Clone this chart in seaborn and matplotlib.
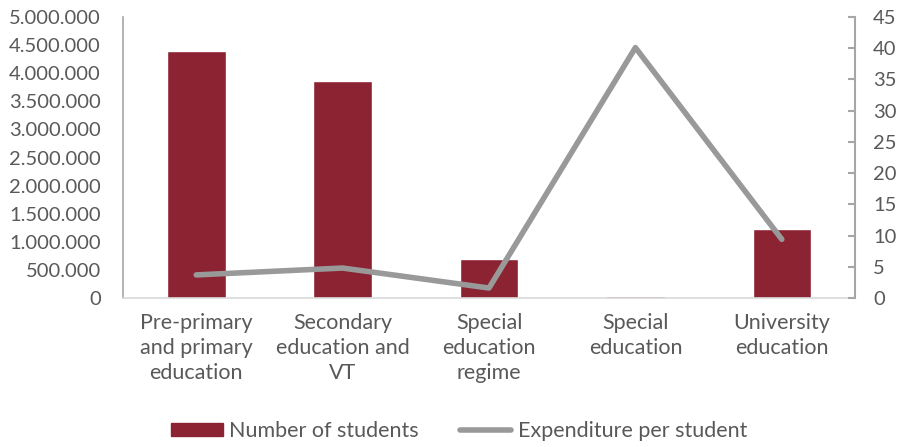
import numpy as np
import pandas as pd
import matplotlib
matplotlib.use("Agg")
import matplotlib.pyplot as plt
import seaborn as sns
from matplotlib.ticker import FuncFormatter, MultipleLocator
from matplotlib.patches import Patch
from matplotlib.lines import Line2D

categories = [
    "Pre-primary\nand primary\neducation",
    "Secondary\neducation and\nVT",
    "Special\neducation\nregime",
    "Special\neducation",
    "University\neducation",
]
students = [4395000, 3860000, 695000, 40000, 1228000]
expenditure = [3.7, 4.8, 1.6, 40.1, 9.4]

bar_color = "#8B2332"
line_color = "#999999"
text_color = "#595959"

sns.set_theme(style="white")
plt.rcParams["font.family"] = ["Lato", "DejaVu Sans"]

fig = plt.figure(figsize=(9, 4.47), dpi=100)
ax = fig.add_axes([0.1367, 0.3333, 0.8133, 0.6287])

df = pd.DataFrame({"category": categories, "students": students,
                   "expenditure": expenditure})
sns.barplot(data=df, x="category", y="students", color=bar_color,
            saturation=1, width=0.4, ax=ax)

ax2 = ax.twinx()
sns.lineplot(x=np.arange(len(categories)), y=expenditure, ax=ax2,
             color=line_color, linewidth=4)

ax.set_xlim(-0.5, len(categories) - 0.5)
ax.set_ylim(0, 5000000)
ax2.set_ylim(0, 45)
ax.yaxis.set_major_locator(MultipleLocator(500000))
ax2.yaxis.set_major_locator(MultipleLocator(5))
ax.yaxis.set_major_formatter(FuncFormatter(lambda v, p: f"{int(v):,}".replace(",", ".")))

ax.set_xlabel("")
ax.set_ylabel("")
ax2.set_ylabel("")

for a in (ax, ax2):
    for s in a.spines.values():
        s.set_visible(False)

ax.spines["left"].set_visible(True)
ax.spines["left"].set_color("#a6a6a6")
ax.spines["left"].set_linewidth(1.2)
ax.spines["bottom"].set_visible(True)
ax.spines["bottom"].set_color("#d9d9d9")
ax.spines["bottom"].set_linewidth(1.2)
ax2.spines["right"].set_visible(True)
ax2.spines["right"].set_color("#a6a6a6")
ax2.spines["right"].set_linewidth(1.5)

ax.tick_params(axis="y", length=0, labelsize=14.5, labelcolor=text_color, pad=16)
ax.tick_params(axis="x", length=0, labelsize=15.5, labelcolor=text_color, pad=11)
ax2.tick_params(axis="y", direction="in", length=5, width=1.5, color="#a6a6a6",
                labelsize=14.5, labelcolor=text_color, pad=13)
for lbl in ax.get_xticklabels():
    lbl.set_linespacing(1.3)

handles = [Patch(facecolor=bar_color, edgecolor=bar_color),
           Line2D([0], [0], color=line_color, linewidth=4)]
fig.legend(handles, ["Number of students", "Expenditure per student"],
           loc="center", bbox_to_anchor=(0.51, 0.036), ncol=2, frameon=False,
           fontsize=15.5, labelcolor=text_color, handlelength=2.4,
           handleheight=0.55, handletextpad=0.3, columnspacing=1.9)

fig.savefig("out.png", dpi=100)
